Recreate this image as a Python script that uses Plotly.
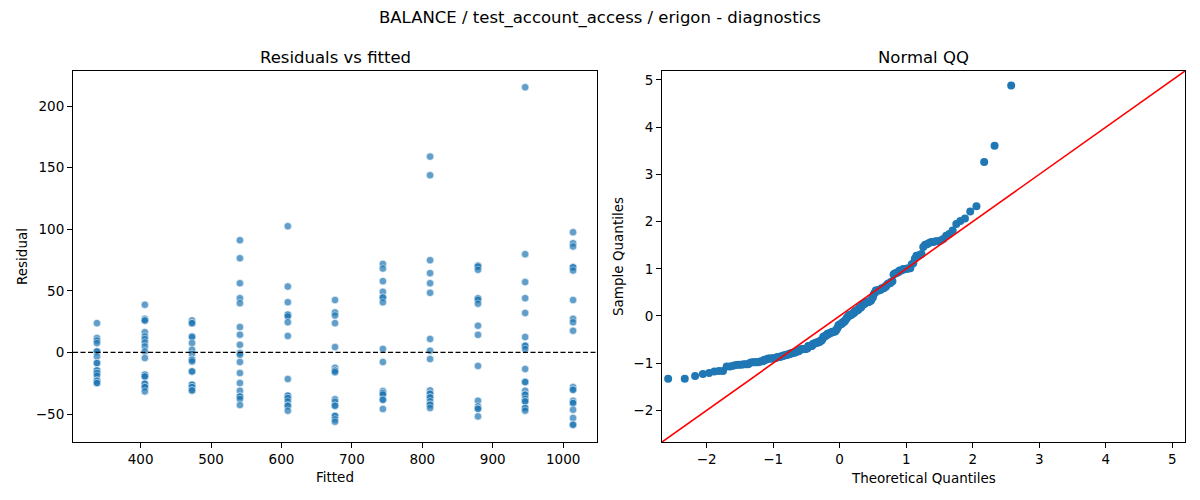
import numpy as np
import plotly.graph_objects as go
from plotly.subplots import make_subplots
from statistics import NormalDist

# fitted value of each group and residuals
fitted = [338, 406, 473, 541, 609, 676, 744, 811, 879, 946, 1014]
res_338 = [23.8, 11.7, 9.7, 7.6, 0.8, 0.8, -3.2, -8.6, -8.6, -14.6, -14.6, -16.7, -16.7, -18.9, -23.0, -23.0, -24.8, -24.8]
res_406 = [38.7, 27.3, 26.0, 26.0, 16.5, 13.0, 10.9, 8.1, 4.9, 0.8, -4.5, -18.1, -18.1, -19.5, -19.5, -25.4, -25.4, -28.1, -28.1, -31.6]
res_473 = [26.0, 23.8, 23.8, 13.0, 12.5, 7.6, 2.2, -1.1, -5.9, -5.9, -7.3, -15.4, -15.4, -26.2, -26.2, -28.1, -28.1, -30.8, -30.8]
res_541 = [91.1, 76.5, 56.2, 44.1, 40.0, 20.6, 14.4, 6.2, -0.5, -1.9, -7.8, -16.7, -24.8, -31.1, -35.7, -35.7, -37.8, -42.7]
res_609 = [102.5, 53.5, 40.8, 30.6, 30.6, 29.2, 24.5, 13.4, -21.6, -35.1, -35.1, -37.0, -37.0, -39.7, -43.2, -43.2, -47.3]
res_676 = [42.5, 32.5, 30.0, 23.8, 4.4, -12.5, -14.8, -14.8, -16.0, -38.0, -40.0, -43.2, -43.2, -51.5, -51.5, -54.3, -56.2]
res_744 = [71.9, 68.1, 57.9, 49.2, 44.6, 44.6, 40.7, 2.9, -7.8, -31.3, -32.9, -32.9, -34.3, -38.4, -38.4, -45.9]
res_811 = [159.0, 143.9, 74.9, 64.4, 56.2, 48.4, 10.9, 1.4, -5.3, -30.8, -33.5, -33.5, -36.5, -36.5, -39.7, -42.4, -42.4, -45.1]
res_879 = [70.6, 69.8, 69.8, 67.1, 43.8, 43.8, 42.7, 39.6, 21.7, 14.3, -10.9, -39.2, -43.8, -45.7, -45.7, -51.9]
res_946 = [215.3, 79.8, 57.1, 44.1, 32.0, 12.5, 5.4, 5.4, 2.8, -13.5, -24.0, -24.0, -31.1, -34.3, -34.3, -37.6, -39.7, -39.7, -45.1, -45.1, -47.3]
res_1014 = [97.6, 88.7, 86.0, 69.2, 69.2, 66.5, 42.5, 27.3, 24.5, 17.6, -28.1, -30.3, -30.3, -39.2, -41.0, -41.0, -46.5, -53.2, -58.7, -58.7]
residuals = [res_338, res_406, res_473, res_541, res_609, res_676, res_744, res_811, res_879, res_946, res_1014]

left_xrange = [304, 1048]
left_yrange = [-72.7, 228.5]
qq_lim = [-2.67, 5.19]

x_fit = []
y_res = []
for f, r in zip(fitted, residuals):
    x_fit += [f] * len(r)
    y_res += r

# normal QQ of the residuals scaled by the residual standard error
resid = np.array(y_res)
n = len(resid)
sample_q = np.sort(resid / np.sqrt(np.sum(resid ** 2) / (n - 2)))
theo_q = [NormalDist().inv_cdf(i / (n + 1)) for i in range(1, n + 1)]

# the page has an 8px body margin, so pixel positions are shifted by it
W, H, OFF = 1192, 492, 8


def px(v):
    return (v - OFF) / W


def py(v):
    return 1 - (v - OFF) / H


font = dict(family="DejaVu Sans", color="black")

fig = make_subplots(rows=1, cols=2)
fig.add_trace(go.Scatter(x=x_fit, y=y_res, mode="markers",
                         marker=dict(size=7.5, color="#1f77b4", opacity=0.7,
                                     line=dict(color="white", width=0.6))), 1, 1)
fig.add_trace(go.Scatter(x=theo_q, y=sample_q, mode="markers",
                         marker=dict(size=8, color="#1f77b4")), 1, 2)
fig.add_trace(go.Scatter(x=qq_lim, y=qq_lim, mode="lines",
                         line=dict(color="red", width=1.6)), 1, 2)
fig.add_shape(type="line", xref="x domain", x0=0, x1=1, yref="y", y0=0, y1=0,
              line=dict(color="black", width=1.2, dash="5px,2.5px"))

axis = dict(showline=True, linecolor="black", linewidth=1.1, mirror=True,
            ticks="outside", ticklen=5, tickwidth=1.1, tickcolor="black",
            showgrid=False, zeroline=False, automargin=False,
            tickfont=dict(size=13.5, **font))
fig.update_xaxes(**axis)
fig.update_yaxes(**axis)
fig.update_xaxes(domain=[px(73), px(597)], range=left_xrange, dtick=100, row=1, col=1)
fig.update_yaxes(domain=[py(442), py(71)], range=left_yrange, dtick=50, row=1, col=1)
fig.update_xaxes(domain=[px(662), px(1185)], range=qq_lim, dtick=1, row=1, col=2)
fig.update_yaxes(domain=[py(442), py(71)], range=qq_lim, dtick=1, row=1, col=2)

notes = [
    ("BALANCE / test_account_access / erigon - diagnostics", 600, 18, 16.5, 0),
    ("Residuals vs fitted", 335, 57, 16.5, 0),
    ("Normal QQ", 923, 57, 16.5, 0),
    ("Fitted", 335, 477, 13.5, 0),
    ("Theoretical Quantiles", 923, 478, 13.5, 0),
    ("Residual", 22, 257, 13.5, -90),
    ("Sample Quantiles", 618, 257, 13.5, -90),
]
for text, x0, y0, size, angle in notes:
    fig.add_annotation(text=text, x=px(x0), y=py(y0), xref="paper", yref="paper",
                       xanchor="center", yanchor="middle", showarrow=False,
                       textangle=angle, font=dict(size=size, **font))

fig.update_layout(width=W, height=H, showlegend=False,
                  margin=dict(l=0, r=0, t=0, b=0),
                  plot_bgcolor="white", paper_bgcolor="white", font=font)
fig.write_html("out.html")
